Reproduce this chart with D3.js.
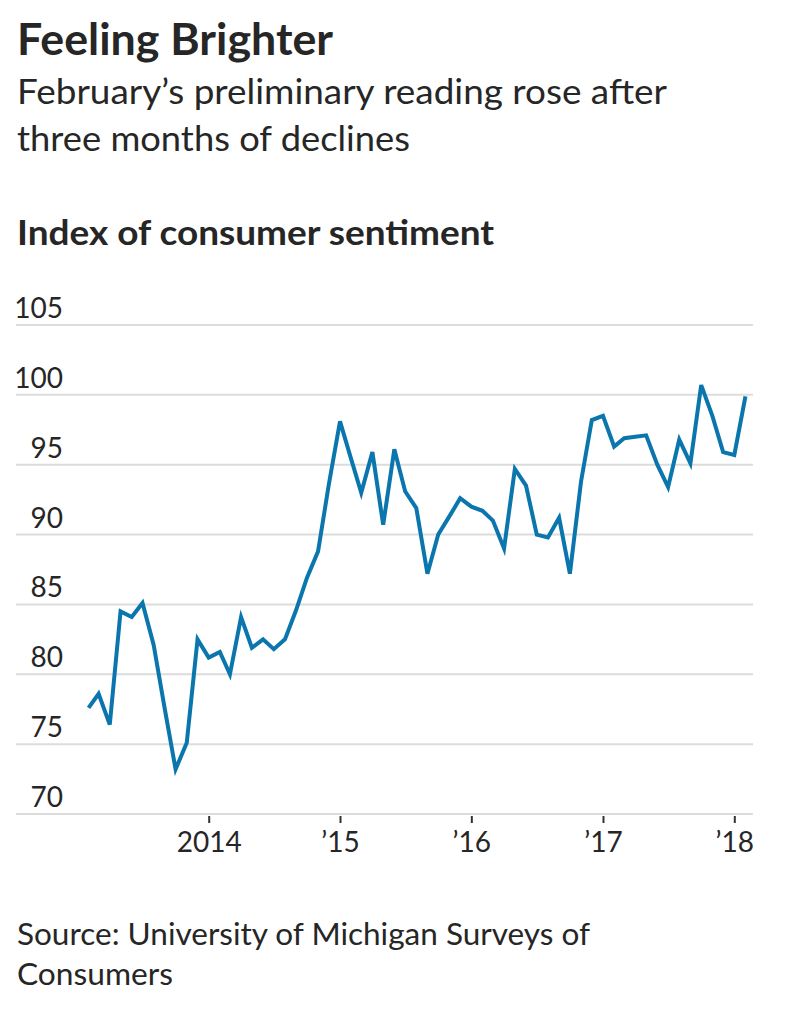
<!DOCTYPE html>
<html>
<head>
<meta charset="utf-8">
<script src="https://cdn.jsdelivr.net/npm/d3@7"></script>
<style>
  body { margin: 0; padding: 0; background: #fff; }
  svg text { font-family: Lato, "Noto Sans", sans-serif; fill: #262626; }
</style>
</head>
<body>
<div id="chart"></div>
<script>
// monthly readings, Feb 2013 .. Feb 2018 (last one preliminary)
const startMonth = [2013, 1];
const sentiment = [
  77.6, 78.6, 76.4, 84.5, 84.1, 85.1, 82.1, 77.5, 73.2, 75.1, 82.5,
  81.2, 81.6, 80.0, 84.1, 81.9, 82.5, 81.8, 82.5, 84.6, 86.9, 88.8, 93.6,
  98.1, 95.4, 93.0, 95.9, 90.7, 96.1, 93.1, 91.9, 87.2, 90.0, 91.3, 92.6,
  92.0, 91.7, 91.0, 89.0, 94.7, 93.5, 90.0, 89.8, 91.2, 87.2, 93.8, 98.2,
  98.5, 96.3, 96.9, 97.0, 97.1, 95.0, 93.4, 96.8, 95.1, 100.7, 98.5, 95.9,
  95.7, 99.9
];
const yTicks = [70, 75, 80, 85, 90, 95, 100, 105];
const xTickYears = [2014, 2015, 2016, 2017, 2018];
const xTickLabels = ["2014", "\u201915", "\u201916", "\u201917", "\u201918"];

const title = "Feeling Brighter";
const subtitle = ["February\u2019s preliminary reading rose after", "three months of declines"];
const unitLabel = "Index of consumer sentiment";
const source = ["Source: University of Michigan Surveys of", "Consumers"];

const width = 799, height = 1016;
const svg = d3.select('#chart').append('svg').attr('width', width).attr('height', height);

const data = sentiment.map(function (v, i) {
  return { date: new Date(startMonth[0], startMonth[1] + i, 1), value: v };
});

const x = d3.scaleTime()
  .domain([new Date(2014, 0, 1), new Date(2018, 0, 1)])
  .range([208.7, 734.3]);
const y = d3.scaleLinear().domain([70, 105]).range([814, 325]);
const gridLeft = 16, gridRight = 753;

// squeeze/stretch a text line so it spans the same width as in the print
function fitWidth(sel, w) {
  sel.each(function () {
    const len = this.getComputedTextLength();
    if (Math.abs(len - w) > 2) {
      d3.select(this).attr('textLength', w).attr('lengthAdjust', 'spacingAndGlyphs');
    }
  });
}

// headings
svg.append('text').attr('x', 17).attr('y', 55)
  .style('font-size', '44px').style('font-weight', 700).text(title)
  .call(fitWidth, 316);
const subWidths = [650, 393];
svg.selectAll('.sub').data(subtitle).enter().append('text')
  .attr('class', 'sub').attr('x', 17).attr('y', function (d, i) { return 104 + i * 47; })
  .style('font-size', '35px').text(function (d) { return d; })
  .each(function (d, i) { d3.select(this).call(fitWidth, subWidths[i]); });
svg.append('text').attr('x', 17).attr('y', 245)
  .style('font-size', '35px').style('font-weight', 700).text(unitLabel)
  .call(fitWidth, 477);

// gridlines + y labels
svg.selectAll('.grid').data(yTicks).enter().append('line')
  .attr('x1', gridLeft).attr('x2', gridRight)
  .attr('y1', function (d) { return y(d); }).attr('y2', function (d) { return y(d); })
  .attr('stroke', '#dcdcdc').attr('stroke-width', 2);
svg.selectAll('.ylab').data(yTicks).enter().append('text')
  .attr('x', 63).attr('y', function (d) { return y(d) - 7; })
  .attr('text-anchor', 'end').style('font-size', '28px')
  .text(function (d) { return d; });

// x axis
const xAxis = d3.axisBottom(x)
  .tickValues(xTickYears.map(function (yr) { return new Date(yr, 0, 1); }))
  .tickSize(7).tickPadding(9)
  .tickFormat(function (d, i) { return xTickLabels[i]; });
const gx = svg.append('g').attr('transform', 'translate(0,' + 816 + ')').call(xAxis);
gx.select('.domain').remove();
gx.selectAll('.tick line').attr('stroke', '#333').attr('stroke-width', 2);
gx.selectAll('.tick text').style('font-size', '28px')
  .style('font-family', 'Lato, "Noto Sans", sans-serif').attr('fill', '#262626');

// the line
const line = d3.line()
  .x(function (d) { return x(d.date); })
  .y(function (d) { return y(d.value); });
svg.append('path').datum(data)
  .attr('d', line).attr('fill', 'none')
  .attr('stroke', '#0a76ad').attr('stroke-width', 4)
  .attr('stroke-linejoin', 'miter').attr('stroke-linecap', 'butt');

// source
const srcWidths = [573, 156];
svg.selectAll('.src').data(source).enter().append('text')
  .attr('x', 17).attr('y', function (d, i) { return 945 + i * 40; })
  .style('font-size', '31px').text(function (d) { return d; })
  .each(function (d, i) { d3.select(this).call(fitWidth, srcWidths[i]); });
</script>
</body>
</html>
